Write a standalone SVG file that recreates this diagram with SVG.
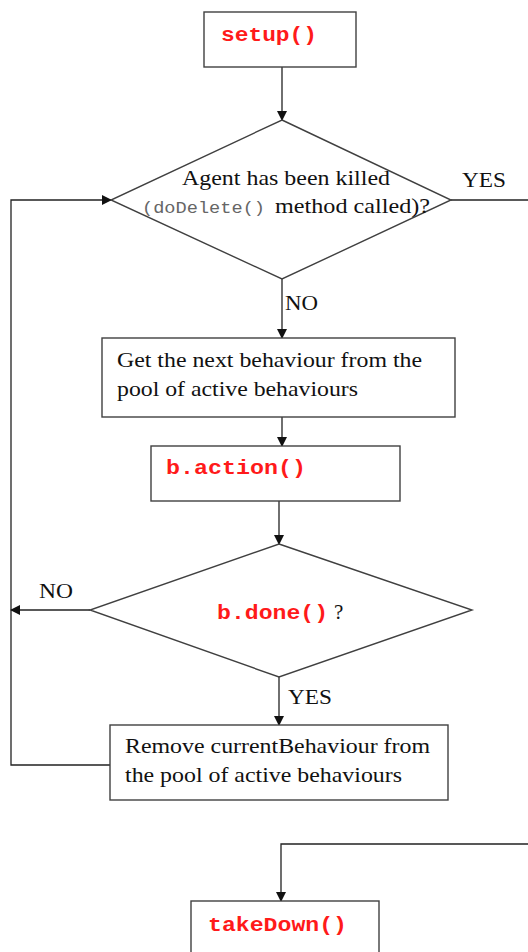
<svg xmlns="http://www.w3.org/2000/svg" width="528" height="952" viewBox="0 0 528 952">
<style>
.box{fill:#fff;stroke:#404040;stroke-width:1.4}
.ln{fill:none;stroke:#222;stroke-width:1.3}
.t{font-family:"Liberation Serif",serif;font-size:21px;fill:#111}
.c{font-family:"Liberation Mono",monospace;font-size:20px;font-weight:bold;fill:#ff1a1a}
.m{font-family:"Liberation Mono",monospace;font-size:16px;fill:#666}
</style>
<defs>
<marker id="ah" markerWidth="10" markerHeight="10" refX="9" refY="5" orient="auto" markerUnits="userSpaceOnUse">
<path d="M0,0 L10,5 L0,10 z" fill="#111"/>
</marker>
</defs>
<rect width="528" height="952" fill="#fff"/>
<g id="connectors">
<line class="ln" x1="282" y1="67" x2="282" y2="120" marker-end="url(#ah)"/>
<line class="ln" x1="451" y1="200" x2="528" y2="200"/>
<line class="ln" x1="282" y1="279" x2="282" y2="338" marker-end="url(#ah)"/>
<line class="ln" x1="282" y1="417" x2="282" y2="446" marker-end="url(#ah)"/>
<line class="ln" x1="279" y1="501" x2="279" y2="544" marker-end="url(#ah)"/>
<line class="ln" x1="90" y1="610" x2="11" y2="610" marker-end="url(#ah)"/>
<line class="ln" x1="279" y1="677" x2="279" y2="725" marker-end="url(#ah)"/>
<polyline class="ln" points="110,765 11,765 11,200 111,200" marker-end="url(#ah)"/>
<polyline class="ln" points="528,844 281,844 281,901" marker-end="url(#ah)"/>
<text class="t" x="462" y="187" textLength="44" lengthAdjust="spacingAndGlyphs">YES</text>
<text class="t" x="285" y="310" textLength="33" lengthAdjust="spacingAndGlyphs">NO</text>
<text class="t" x="39" y="598" textLength="34" lengthAdjust="spacingAndGlyphs">NO</text>
<text class="t" x="288" y="704" textLength="44" lengthAdjust="spacingAndGlyphs">YES</text>
</g>
<g id="setup">
<rect class="box" x="204" y="12" width="152" height="55"/>
<text class="c" x="221" y="41" textLength="96" lengthAdjust="spacingAndGlyphs">setup()</text>
</g>
<g id="killed">
<polygon class="box" points="282,120 451,200 282,279 111,200"/>
<text class="t" x="182" y="185" textLength="208" lengthAdjust="spacingAndGlyphs">Agent has been killed</text>
<text class="m" x="142" y="213" textLength="123" lengthAdjust="spacingAndGlyphs">(doDelete()</text>
<text class="t" x="275" y="213" textLength="155" lengthAdjust="spacingAndGlyphs">method called)?</text>
</g>
<g id="getnext">
<rect class="box" x="102" y="338" width="353" height="79"/>
<text class="t" x="117" y="367" textLength="305" lengthAdjust="spacingAndGlyphs">Get the next behaviour from the</text>
<text class="t" x="117" y="396" textLength="241" lengthAdjust="spacingAndGlyphs">pool of active behaviours</text>
</g>
<g id="action">
<rect class="box" x="151" y="446" width="249" height="55"/>
<text class="c" x="166" y="474" textLength="140" lengthAdjust="spacingAndGlyphs">b.action()</text>
</g>
<g id="done">
<polygon class="box" points="279,544 472,610 279,677 90,610"/>
<text class="c" x="217" y="619" textLength="111" lengthAdjust="spacingAndGlyphs">b.done()</text>
<text class="t" x="334" y="619">?</text>
</g>
<g id="remove">
<rect class="box" x="110" y="725" width="338" height="75"/>
<text class="t" x="125" y="753" textLength="305" lengthAdjust="spacingAndGlyphs">Remove currentBehaviour from</text>
<text class="t" x="125" y="782" textLength="277" lengthAdjust="spacingAndGlyphs">the pool of active behaviours</text>
</g>
<g id="takedown">
<rect class="box" x="191" y="901" width="188" height="60"/>
<text class="c" x="208" y="931" textLength="139" lengthAdjust="spacingAndGlyphs">takeDown()</text>
</g>
</svg>
